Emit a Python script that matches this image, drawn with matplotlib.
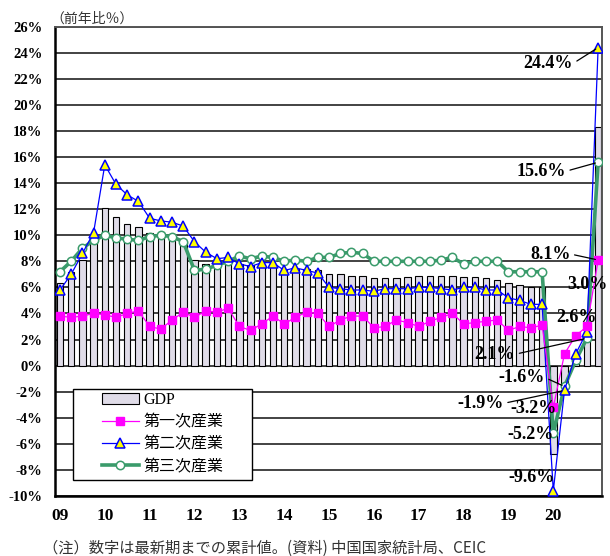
import numpy as np
import matplotlib
matplotlib.use("Agg")
import matplotlib.pyplot as plt
from matplotlib.patches import Rectangle

# quarterly, cumulative YoY (%), 2009Q1 .. 2021Q1
years = ["09", "10", "11", "12", "13", "14", "15", "16", "17", "18", "19", "20"]

gdp = [6.3, 7.2, 8.1, 9.4,
       12.1, 11.4, 10.9, 10.6,
       10.2, 10.0, 9.7, 9.5,
       8.1, 7.8, 7.7, 7.9,
       7.8, 7.7, 7.8, 7.8,
       7.4, 7.4, 7.4, 7.3,
       7.0, 7.0, 6.9, 6.9,
       6.7, 6.7, 6.7, 6.8,
       6.9, 6.9, 6.9, 6.9,
       6.8, 6.8, 6.7, 6.6,
       6.3, 6.2, 6.0, 6.0,
       -6.8, -1.6, 0.7, 2.3,
       18.3]

primary = [3.8, 3.7, 3.8, 4.0,
           3.9, 3.7, 4.0, 4.2,
           3.0, 2.8, 3.5, 4.1,
           3.7, 4.2, 4.1, 4.4,
           3.0, 2.7, 3.2, 3.8,
           3.2, 3.7, 4.1, 4.0,
           3.0, 3.5, 3.8, 3.8,
           2.9, 3.0, 3.5, 3.3,
           3.0, 3.4, 3.7, 4.0,
           3.2, 3.3, 3.4, 3.5,
           2.7, 3.0, 2.9, 3.1,
           -3.2, 0.9, 2.3, 3.0,
           8.1]

secondary = [5.8, 7.0, 8.6, 10.2,
             15.4, 13.9, 13.1, 12.6,
             11.3, 11.1, 11.0, 10.7,
             9.5, 8.7, 8.2, 8.3,
             7.8, 7.6, 7.9, 7.9,
             7.3, 7.5, 7.3, 7.1,
             6.0, 5.9, 5.8, 5.8,
             5.7, 5.9, 5.9, 5.9,
             6.0, 6.0, 5.9, 5.8,
             6.0, 6.0, 5.8, 5.8,
             5.2, 5.0, 4.7, 4.7,
             -9.6, -1.9, 0.9, 2.6,
             24.4]

tertiary = [7.2, 8.0, 9.0, 9.6,
            10.0, 9.8, 9.7, 9.6,
            9.9, 10.0, 9.9, 9.5,
            7.3, 7.4, 7.7, 8.0,
            8.4, 8.2, 8.4, 8.3,
            8.0, 8.1, 8.0, 8.3,
            8.3, 8.6, 8.7, 8.6,
            8.0, 8.0, 8.0, 8.0,
            8.0, 8.0, 8.1, 8.3,
            7.8, 8.0, 8.0, 8.0,
            7.2, 7.2, 7.2, 7.2,
            -5.2, -1.6, 0.4, 2.1,
            15.6]

labels = ["GDP", "第一次産業", "第二次産業", "第三次産業"]
footnote = "（注）数字は最新期までの累計値。(資料) 中国国家統計局、CEIC"

x = np.arange(len(gdp))
serif_b = dict(family="Liberation Serif", weight="bold")

fig = plt.figure(figsize=(6.1, 5.56), dpi=100)
ax = fig.add_axes([0.090, 0.108, 0.897, 0.844])

b = ax.bar(x, gdp, width=0.58, color="#E0DCE8", edgecolor="black", linewidth=0.8,
           zorder=2)
l3, = ax.plot(x, tertiary, color="#3A9B6B", lw=2.6, marker="o", ms=6,
              mfc="white", mec="#3A9B6B", mew=1.1, zorder=3)
l2, = ax.plot(x, secondary, color="#0000FF", lw=0.9, marker="^", ms=6.5,
              mfc="#FFFF00", mec="#0000FF", mew=1.1, zorder=4)
l1, = ax.plot(x, primary, color="#FF00FF", lw=0.9, marker="s", ms=5.5,
              mfc="#FF00FF", mec="#FF00FF", zorder=5)

ax.set_xlim(-0.45, len(gdp) - 0.65)
ax.set_ylim(-10, 26)
yt = np.arange(-10, 27, 2)
ax.set_yticks(yt)
ax.set_yticklabels([f"{v}%" for v in yt], fontsize=10.5, **serif_b)
ax.set_xticks(np.arange(0, 48, 4))
ax.set_xticklabels(years, fontsize=12.5, **serif_b)
ax.tick_params(axis="y", length=0, pad=9)
ax.tick_params(axis="x", length=0, pad=9)

ax.set_axisbelow(True)
ax.yaxis.grid(True, color="#222222", lw=1.2)
for s in ["left", "bottom"]:
    ax.spines[s].set_linewidth(1.8)
    ax.spines[s].set_color("black")
for s in ["top", "right"]:
    ax.spines[s].set_linewidth(1.4)
    ax.spines[s].set_color("#555555")

# data labels (index, value, text, offset px, leader line)
notes = [
    (48, secondary[48], "24.4%", (-50, -16), True),
    (48, tertiary[48], "15.6%", (-57, -9), True),
    (48, primary[48], "8.1%", (-48, 6), True),
    (47, primary[47], "3.0%", (1, 42), False),
    (47, secondary[47], "2.6%", (-10, 14), False),
    (47, tertiary[47], "2.1%", (-92, -16), True),
    (45, tertiary[45], "-1.6%", (-43, 9), True),
    (45, secondary[45], "-1.9%", (-84, -13), True),
    (44, primary[44], "-3.2%", (-20, -1), False),
    (44, tertiary[44], "-5.2%", (-23, -1), False),
    (44, secondary[44], "-9.6%", (-22, 13), False),
]
for xi, yi, txt, off, line in notes:
    ap = dict(arrowstyle="-", color="black", lw=0.9, relpos=(1, 0.5),
              shrinkA=1, shrinkB=2) if line else None
    ax.annotate(txt, xy=(xi, yi), xytext=off, textcoords="offset pixels",
                ha="center", va="center", fontsize=13, zorder=6,
                arrowprops=ap, annotation_clip=False, **serif_b)

# legend box drawn separately so the padding matches
ax.add_patch(Rectangle((0.033, 0.034), 0.327, 0.194, transform=ax.transAxes,
                       facecolor="white", edgecolor="black", lw=1.0, zorder=6))
leg = ax.legend([b, l1, l2, l3], labels,
                loc="upper left", bbox_to_anchor=(0.086, 0.222),
                prop=dict(family=["Liberation Serif", "Noto Sans CJK JP"], size=11.5),
                frameon=False, handlelength=2.3, labelspacing=0.4, borderpad=0,
                handletextpad=0.3, borderaxespad=0)
leg.set_zorder(7)

fig.text(0.082, 0.966, "（前年比％）", family="Noto Sans CJK JP", fontsize=10,
         color="#333333", va="center")
fig.text(0.07, 0.0144, footnote, family=["Noto Sans CJK JP", "DejaVu Sans"],
         fontsize=11, color="#333333", va="center")

fig.savefig("out.png", dpi=100)
